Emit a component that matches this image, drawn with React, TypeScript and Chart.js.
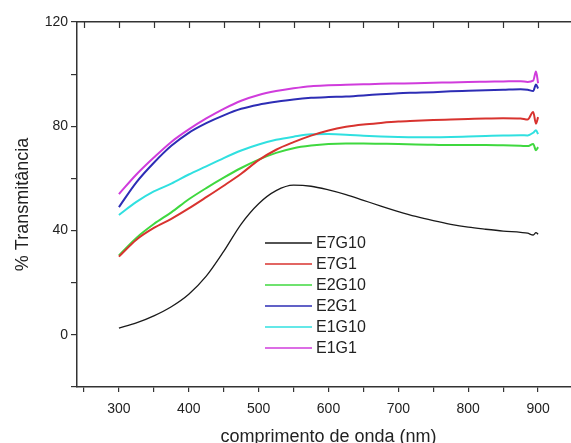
import React, { useEffect, useRef } from "react";
import { Chart, registerables } from "chart.js";

Chart.register(...registerables);

const wavelengths = [300, 325, 350, 375, 400, 425, 450, 475, 500, 525, 550, 575, 600, 625, 650, 675, 700, 725, 750, 775, 800, 825, 850, 875, 885, 893, 897, 900];

const E7G10 = [2.6, 4.6, 7.3, 10.8, 15.6, 22.5, 32, 42.5, 50.3, 55.3, 57.4, 57, 55.6, 53.8, 51.6, 49.4, 47.3, 45.4, 43.8, 42.4, 41.3, 40.5, 39.8, 39.3, 39, 38.3, 39.2, 38.6];
const E7G1 = [30, 36.5, 41, 44.5, 48.5, 52.8, 57.2, 61.8, 67, 71, 73.9, 76.4, 78.4, 79.8, 80.7, 81.3, 81.8, 82.1, 82.4, 82.6, 82.8, 83, 83.1, 83, 82.6, 85.5, 81, 83.5];
const E2G10 = [30.5, 37.2, 42.5, 47, 52, 56.3, 60.3, 64, 67.2, 69.8, 71.6, 72.6, 73.2, 73.4, 73.4, 73.3, 73.2, 73, 72.9, 72.8, 72.8, 72.8, 72.7, 72.5, 72.4, 73.2, 70.8, 72];
const E2G1 = [49, 58.5, 66, 72.5, 77.5, 81.2, 84.2, 86.7, 88.3, 89.4, 90.3, 90.9, 91.2, 91.4, 91.8, 92.3, 92.7, 92.9, 93.1, 93.4, 93.6, 93.8, 94, 94.2, 94, 93.5, 96, 94.5];
const E1G10 = [46, 51, 55, 58, 61.5, 64.6, 67.8, 70.7, 73, 74.8, 76, 76.9, 77, 76.8, 76.4, 76.1, 75.9, 75.8, 75.8, 75.9, 76.1, 76.3, 76.5, 76.6, 76.5, 77.5, 78.5, 77];
const E1G1 = [54, 61.5, 68, 74, 78.8, 83, 86.7, 89.8, 92, 93.5, 94.6, 95.4, 95.7, 95.9, 96.1, 96.3, 96.4, 96.5, 96.7, 96.8, 97, 97.1, 97.2, 97.3, 97, 97.5, 101, 96.5];

const seriesLabels = ["E7G10", "E7G1", "E2G10", "E2G1", "E1G10", "E1G1"];
const seriesValues = [E7G10, E7G1, E2G10, E2G1, E1G10, E1G1];
const seriesColors = ["#1a1a1a", "#d8332f", "#3fd83f", "#2d2db5", "#30e0e0", "#d03cdc"];
const seriesWidths = [1.3, 2, 2, 2, 2, 2];

const xTickValues = [250, 300, 350, 400, 450, 500, 550, 600, 650, 700, 750, 800, 850, 900, 950];
const xLabelValues = [300, 400, 500, 600, 700, 800, 900];
const yTickValues = [-20, 0, 20, 40, 60, 80, 100, 120];
const yLabelValues = [0, 40, 80, 120];

const FONT = '"Liberation Sans", Arial, sans-serif';

const framePlugin = {
  id: "frameAndLegend",
  afterDraw(chart: any) {
    const ctx = chart.ctx;
    const xs = chart.scales.x;
    const area = chart.chartArea;
    ctx.save();
    ctx.strokeStyle = "#333";
    ctx.lineWidth = 1.2;
    for (const v of xTickValues) {
      const px = Math.round(xs.getPixelForValue(v)) + 0.5;
      ctx.beginPath();
      ctx.moveTo(px, area.top);
      ctx.lineTo(px, area.top + 6);
      ctx.stroke();
    }
    ctx.font = "16px " + FONT;
    ctx.textBaseline = "middle";
    ctx.textAlign = "left";
    chart.data.datasets.forEach((ds: any, i: number) => {
      const y = 243 + i * 21;
      ctx.strokeStyle = ds.borderColor;
      ctx.lineWidth = 1.5;
      ctx.beginPath();
      ctx.moveTo(265, y);
      ctx.lineTo(312, y);
      ctx.stroke();
      ctx.fillStyle = "#222";
      ctx.fillText(ds.label, 316, y + 1);
    });
    ctx.restore();
  },
};

export default function App() {
  const canvasRef = useRef<HTMLCanvasElement | null>(null);

  useEffect(() => {
    if (!canvasRef.current) return;
    const chart = new Chart(canvasRef.current, {
      type: "line",
      data: {
        datasets: seriesLabels.map((label, i) => ({
          label,
          data: wavelengths.map((x, j) => ({ x, y: seriesValues[i][j] })),
          borderColor: seriesColors[i],
          backgroundColor: seriesColors[i],
          borderWidth: seriesWidths[i],
          pointRadius: 0,
          fill: false,
          cubicInterpolationMode: "monotone" as const,
        })),
      },
      options: {
        animation: false,
        responsive: false,
        devicePixelRatio: 1,
        layout: { padding: { left: 0, right: 20, top: 0, bottom: 0 } },
        plugins: { legend: { display: false }, tooltip: { enabled: false } },
        scales: {
          x: {
            type: "linear",
            position: "bottom",
            min: 240,
            max: 960,
            afterBuildTicks: (s: any) => {
              s.ticks = xTickValues.map((value) => ({ value }));
            },
            afterFit: (s: any) => {
              s.height = 56;
            },
            ticks: {
              autoSkip: false,
              maxRotation: 0,
              padding: 9,
              color: "#222",
              font: { size: 14, family: FONT },
              callback: (v: any) => (xLabelValues.includes(Number(v)) ? String(v) : ""),
            },
            grid: { drawOnChartArea: false, drawTicks: true, tickLength: 5, color: "#333", lineWidth: 1.2 },
            border: { display: true, color: "#333", width: 1.5 },
            title: {
              display: true,
              text: "comprimento de onda (nm)",
              color: "#222",
              font: { size: 18, family: FONT, lineHeight: 1.2 },
              padding: { top: 0, bottom: -5 },
            },
          },
          x2: {
            type: "linear",
            position: "top",
            min: 240,
            max: 960,
            afterFit: (s: any) => {
              s.height = 22;
            },
            ticks: { display: false },
            grid: { drawOnChartArea: false, drawTicks: false },
            border: { display: true, color: "#333", width: 1.5 },
          },
          y: {
            type: "linear",
            position: "left",
            min: -20,
            max: 120,
            afterBuildTicks: (s: any) => {
              s.ticks = yTickValues.map((value) => ({ value }));
            },
            afterFit: (s: any) => {
              s.width = 77;
            },
            ticks: {
              autoSkip: false,
              padding: 3,
              color: "#222",
              font: { size: 14, family: FONT },
              callback: (v: any) => (yLabelValues.includes(Number(v)) ? String(v) : ""),
            },
            grid: { drawOnChartArea: false, drawTicks: true, tickLength: 6, color: "#333", lineWidth: 1.2 },
            border: { display: true, color: "#333", width: 1.5 },
            title: {
              display: true,
              text: "% Transmitância",
              color: "#222",
              font: { size: 18, family: FONT, lineHeight: 1.2 },
              padding: { top: 12, bottom: 0 },
            },
          },
        },
      },
      plugins: [framePlugin],
    });
    return () => chart.destroy();
  }, []);

  return (
    <div style={{ position: "absolute", left: 0, top: 0, width: 571, height: 443, overflow: "hidden", background: "#fff" }}>
      <canvas ref={canvasRef} width={600} height={443} style={{ width: 600, height: 443, display: "block" }} />
    </div>
  );
}
